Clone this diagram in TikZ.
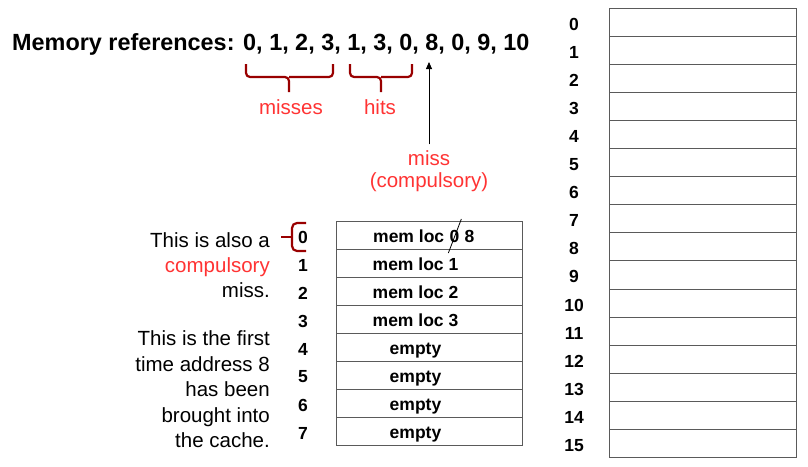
\documentclass[tikz,border=0pt]{standalone}
\usepackage{fontspec}
\setmainfont{Liberation Sans}
\usetikzlibrary{arrows.meta}
\definecolor{hired}{RGB}{255,51,51}
\definecolor{bracered}{RGB}{153,0,0}
\definecolor{cellline}{RGB}{90,90,90}
\begin{document}
\begin{tikzpicture}[x=1pt,y=-1pt,
  cell/.style={draw=cellline,line width=0.9pt,minimum height=28pt,inner sep=0pt},
  cachecell/.style={cell,minimum width=186pt},
  memcell/.style={cell,minimum width=187pt,minimum height=28.1pt},
  celltxt/.style={font=\fontsize{17.5}{20}\selectfont\bfseries,inner sep=0pt,anchor=base},
  idx/.style={font=\fontsize{17.5}{20}\selectfont\bfseries,inner sep=0pt},
  note/.style={font=\fontsize{20.5}{25}\selectfont,inner sep=0pt},
  redtxt/.style={note,text=hired},
  bracepath/.style={draw=bracered,line width=2.2pt,rounded corners=4pt}]
\useasboundingbox (0,0) rectangle (808,466);
% title
\node[anchor=base west,inner sep=0pt,font=\fontsize{23.4}{28}\selectfont\bfseries] (title) at (12,50)
  {Memory references: 0, 1, 2, 3, 1, 3, 0, 8, 0, 9, 10};
% braces
\draw[bracepath] (246,64) |- (289,77) -- (289,92);
\draw[bracepath] (333,64) |- (289,77);
\draw[bracepath] (350,64) |- (381,77) -- (381,92);
\draw[bracepath] (412,64) |- (381,77);
\node[redtxt] (misses) at (291,107) {misses};
\node[redtxt] (hits) at (380,107) {hits};
% arrow
\node[redtxt] (miss) at (429,158) {miss};
\node[redtxt] (compulsory) at (429,182) {(compulsory)};
\coordinate (a8) at (429,62);
\draw[-{Triangle[length=7pt,width=6pt]},line width=0.8pt] (miss.north)+(0,-6) -- (a8);
% cache
\foreach \i in {0,...,7}{
  \node[cachecell] (c\i) at (429,{235+28*\i}) {};
  \node[idx] (ci\i) at (303,{237+28*\i}) {\i};
}
\node[celltxt,anchor=base west] (t0a) at (373,242) {mem loc};
\node[celltxt,anchor=base west] (zero) at ([xshift=4.9pt]t0a.base east) {0};
\node[celltxt,anchor=base west] (eight) at ([xshift=4.9pt]zero.base east) {8};
\draw[line width=0.8pt] ([shift={(-6,17)}]zero.center) -- ([shift={(7,-17)}]zero.center);
\foreach \i/\t in {1/{mem loc 1},2/{mem loc 2},3/{mem loc 3},4/empty,5/empty,6/empty,7/empty}{
  \node[celltxt] (t\i) at (415.5,{242+28*\i}) {\t};
}
% left brace
\draw[bracepath,rounded corners=5pt] (306,223) -| (292,237);
\draw[bracepath,rounded corners=5pt] (306,251) -| (292,237);
\draw[bracepath,rounded corners=0pt] (281,237) -- (292,237);
% left notes
\node[note,anchor=base east] (n1) at (270,247) {This is also a};
\node[redtxt,anchor=base east] (n2) at (270,272) {compulsory};
\node[note,anchor=base east] (n3) at (270,297) {miss.};
\node[note,anchor=base east] (n4) at (270,345.5) {This is the first};
\node[note,anchor=base east] (n5) at (270,371) {time address 8};
\node[note,anchor=base east] (n6) at (270,396.5) {has been};
\node[note,anchor=base east] (n7) at (270,422) {brought into};
\node[note,anchor=base east] (n8) at (270,447.5) {the cache.};
% memory
\foreach \i in {0,...,15}{
  \node[memcell] (m\i) at (702.5,{22+28.1*\i}) {};
  \node[idx] (mi\i) at (574,{24+28.1*\i}) {\i};
}
\end{tikzpicture}
\end{document}
